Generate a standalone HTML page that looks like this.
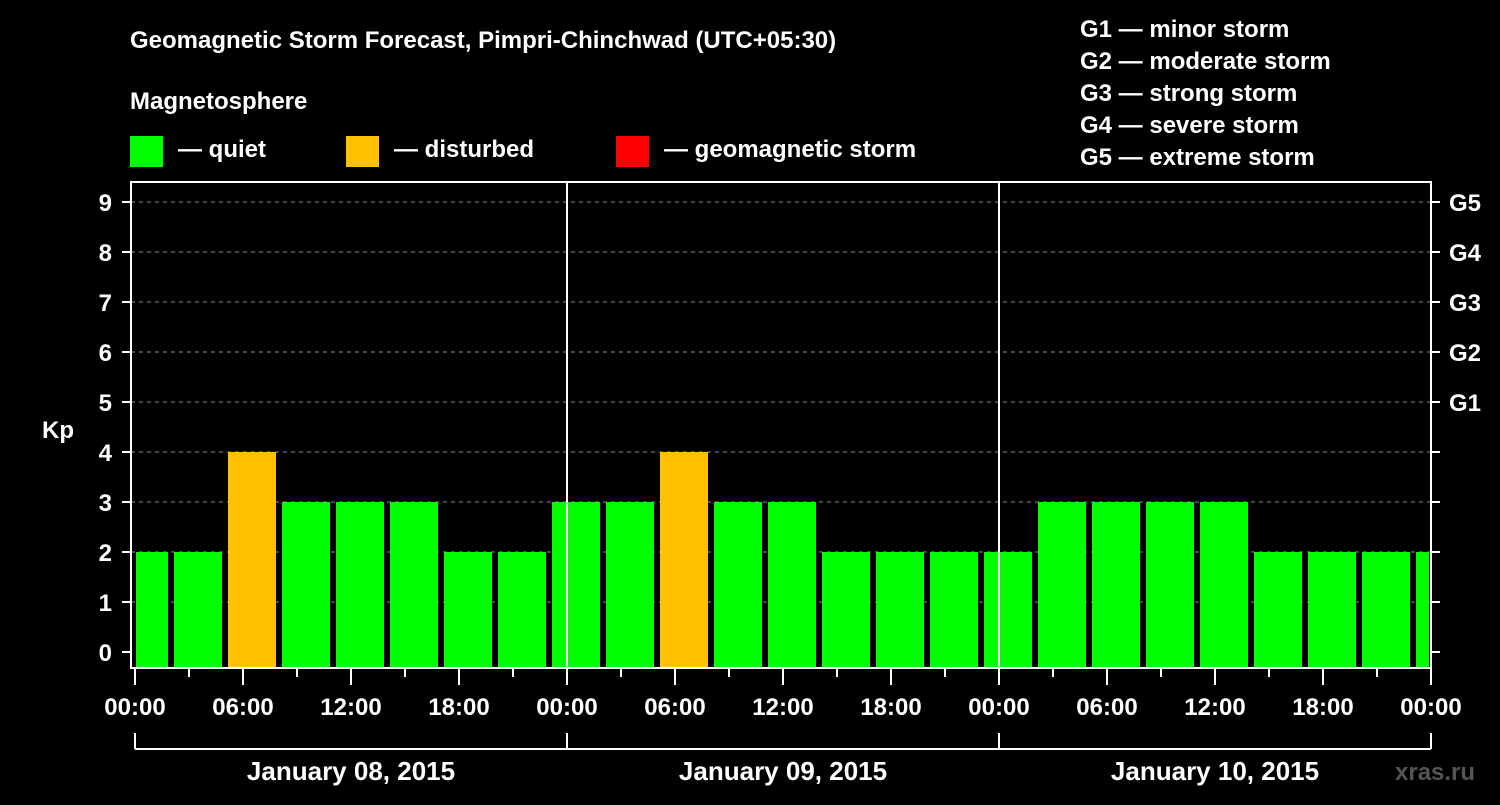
<!DOCTYPE html>
<html><head><meta charset="utf-8"><style>
body{margin:0;background:#000;width:1500px;height:800px;overflow:hidden;font-family:"Liberation Sans",sans-serif;font-weight:bold;color:#fff}
svg text{font-family:"Liberation Sans",sans-serif;font-weight:bold;fill:#fff}
</style></head><body>
<svg width="1500" height="800" id="c">
<text x="130" y="48" font-size="24">Geomagnetic Storm Forecast, Pimpri-Chinchwad (UTC+05:30)</text>
<text x="130" y="109" font-size="24">Magnetosphere</text>
<rect x="130" y="136" width="33" height="31" fill="#00ff00"/>
<text x="178" y="157" font-size="24">— quiet</text>
<rect x="346" y="136" width="33" height="31" fill="#ffc000"/>
<text x="394" y="157" font-size="24">— disturbed</text>
<rect x="616" y="136" width="33" height="31" fill="#ff0000"/>
<text x="664" y="157" font-size="24">— geomagnetic storm</text>
<g font-size="24">
<text x="1080" y="37">G1 — minor storm</text>
<text x="1080" y="69">G2 — moderate storm</text>
<text x="1080" y="101">G3 — strong storm</text>
<text x="1080" y="133">G4 — severe storm</text>
<text x="1080" y="165">G5 — extreme storm</text>
</g>
<text x="42" y="438" font-size="24">Kp</text>
<g id="plot"></g>
<text x="1395" y="780" font-size="24" fill="#444" style="fill:#555">xras.ru</text>
</svg>
<script>
const kpValues=[2,2,4,3,3,3,2,2,3,3,4,3,3,2,2,2,2,3,3,3,3,2,2,2,2];
const yTicks=[0,1,2,3,4,5,6,7,8,9];
const gLabels=["G1","G2","G3","G4","G5"];
const xTickLabels=["00:00","06:00","12:00","18:00","00:00","06:00","12:00","18:00","00:00","06:00","12:00","18:00","00:00"];
const dayLabels=["January 08, 2015","January 09, 2015","January 10, 2015"];
const NS="http://www.w3.org/2000/svg";
const g=document.getElementById('plot');
const L=131,R=1431,T=182,B=668,X0=135,PXH=18;
const xs=h=>X0+h*PXH, ys=v=>652-v*50;
function mk(t,a){const e=document.createElementNS(NS,t);for(const k in a)e.setAttribute(k,a[k]);g.appendChild(e);return e;}
yTicks.forEach(v=>{
 if(v>0){const gl=mk('line',{x1:L,x2:R,y1:ys(v),y2:ys(v),stroke:'#888','stroke-dasharray':'4,4','stroke-width':1});
 
 }
 const t=mk('line',{x1:122,x2:L,y1:ys(v),y2:ys(v),stroke:'#fff','stroke-width':2});
 
 
 const t2=mk('line',{x1:R,x2:1440,y1:ys(v),y2:ys(v),stroke:'#fff','stroke-width':2});
 
 
 const lb=mk('text',{x:112,y:ys(v)+9,'text-anchor':'end','font-size':24});lb.textContent=v;
 
 
});
gLabels.forEach((s,i)=>{const lb=mk('text',{x:1449,y:ys(5+i)+9,'font-size':24});lb.textContent=s;
 
 });
kpValues.forEach((v,i)=>{
 const c=0.5+3*i;let x1=xs(c)-24,x2=xs(c)+24;x1=Math.max(x1,L+5);x2=Math.min(x2,R-2);
 const col=v>=5?'#ff0000':v>=4?'#ffc000':'#00ff00';
 const r=mk('rect',{x:x1,y:ys(v),width:x2-x1,height:B-ys(v),fill:col});
 
 
});
[1,2].forEach(d=>{const l=mk('line',{x1:xs(24*d),x2:xs(24*d),y1:T,y2:B,stroke:'#fff','stroke-width':2});
 
 });
const fr=mk('rect',{x:L,y:T,width:R-L,height:B-T,fill:'none',stroke:'#fff','stroke-width':2});


for(let h=0;h<=72;h+=3){const major=h%6==0;
 const t=mk('line',{x1:xs(h),x2:xs(h),y1:B,y2:major?685:677,stroke:'#fff','stroke-width':2});
 
 }
xTickLabels.forEach((s,i)=>{const lb=mk('text',{x:xs(i*6),y:715,'text-anchor':'middle','font-size':24});lb.textContent=s;
 
 });
const bl=mk('line',{x1:xs(0),x2:xs(72),y1:749,y2:749,stroke:'#fff','stroke-width':2});


[0,1,2,3].forEach(d=>{const l=mk('line',{x1:xs(24*d),x2:xs(24*d),y1:733,y2:749,stroke:'#fff','stroke-width':2});
 
 });
dayLabels.forEach((s,i)=>{const lb=mk('text',{x:xs(24*i+12),y:780,'text-anchor':'middle','font-size':26});lb.textContent=s;
 
 });
</script>
</body></html>
